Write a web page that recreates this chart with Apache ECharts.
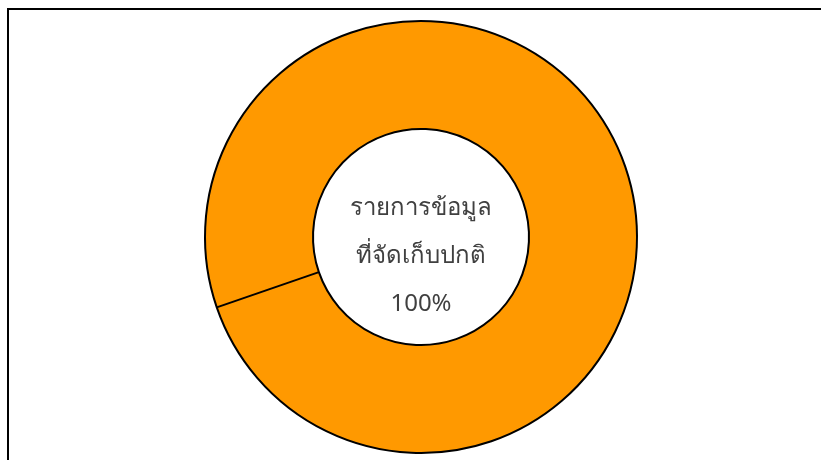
<!DOCTYPE html>
<html>
<head>
<meta charset="utf-8">
<script src="https://cdn.jsdelivr.net/npm/echarts@6/dist/echarts.min.js"></script>
<style>
  html, body { margin: 0; padding: 0; background: #fff; }
  #chart { width: 821px; height: 460px; }
</style>
</head>
<body>
<div id="chart"></div>
<script>
// data
const categories = ['รายการข้อมูลที่จัดเก็บปกติ'];
const values = [100];
const labelLines = ['รายการข้อมูล', 'ที่จัดเก็บปกติ'];

const cx = 421, cy = 237;
const rIn = 108, rOut = 216;
const startAngle = 199;

let myChart = echarts.init(document.getElementById('chart'));

// divider line at the start of the single slice (full ring has no radial edge)
const rad = startAngle * Math.PI / 180;
const divider = {
    type: 'line',
    shape: {
        x1: cx + rIn * Math.cos(rad), y1: cy - rIn * Math.sin(rad),
        x2: cx + rOut * Math.cos(rad), y2: cy - rOut * Math.sin(rad)
    },
    style: { stroke: '#000', lineWidth: 2 },
    z: 100
};

let option = {
    animation: false,
    graphic: [
        {
            type: 'rect',
            shape: { x: 8, y: 9, width: 900, height: 600 },
            style: { fill: 'none', stroke: '#000', lineWidth: 2 },
            silent: true
        },
        divider
    ],
    series: [
        {
            type: 'pie',
            center: [cx, cy],
            radius: [rIn, rOut],
            startAngle: startAngle,
            silent: true,
            itemStyle: { color: '#FF9900', borderColor: '#000', borderWidth: 2 },
            label: {
                show: true,
                position: 'center',
                offset: [0, 19],
                color: '#404040',
                fontSize: 24,
                lineHeight: 48,
                fontFamily: 'Noto Sans, sans-serif',
                formatter: (p) => labelLines.join('\n') + '\n' + Math.round(p.percent) + '%'
            },
            labelLine: { show: false },
            data: categories.map((c, i) => ({ name: c, value: values[i] }))
        }
    ]
};
myChart.setOption(option);
</script>
</body>
</html>
